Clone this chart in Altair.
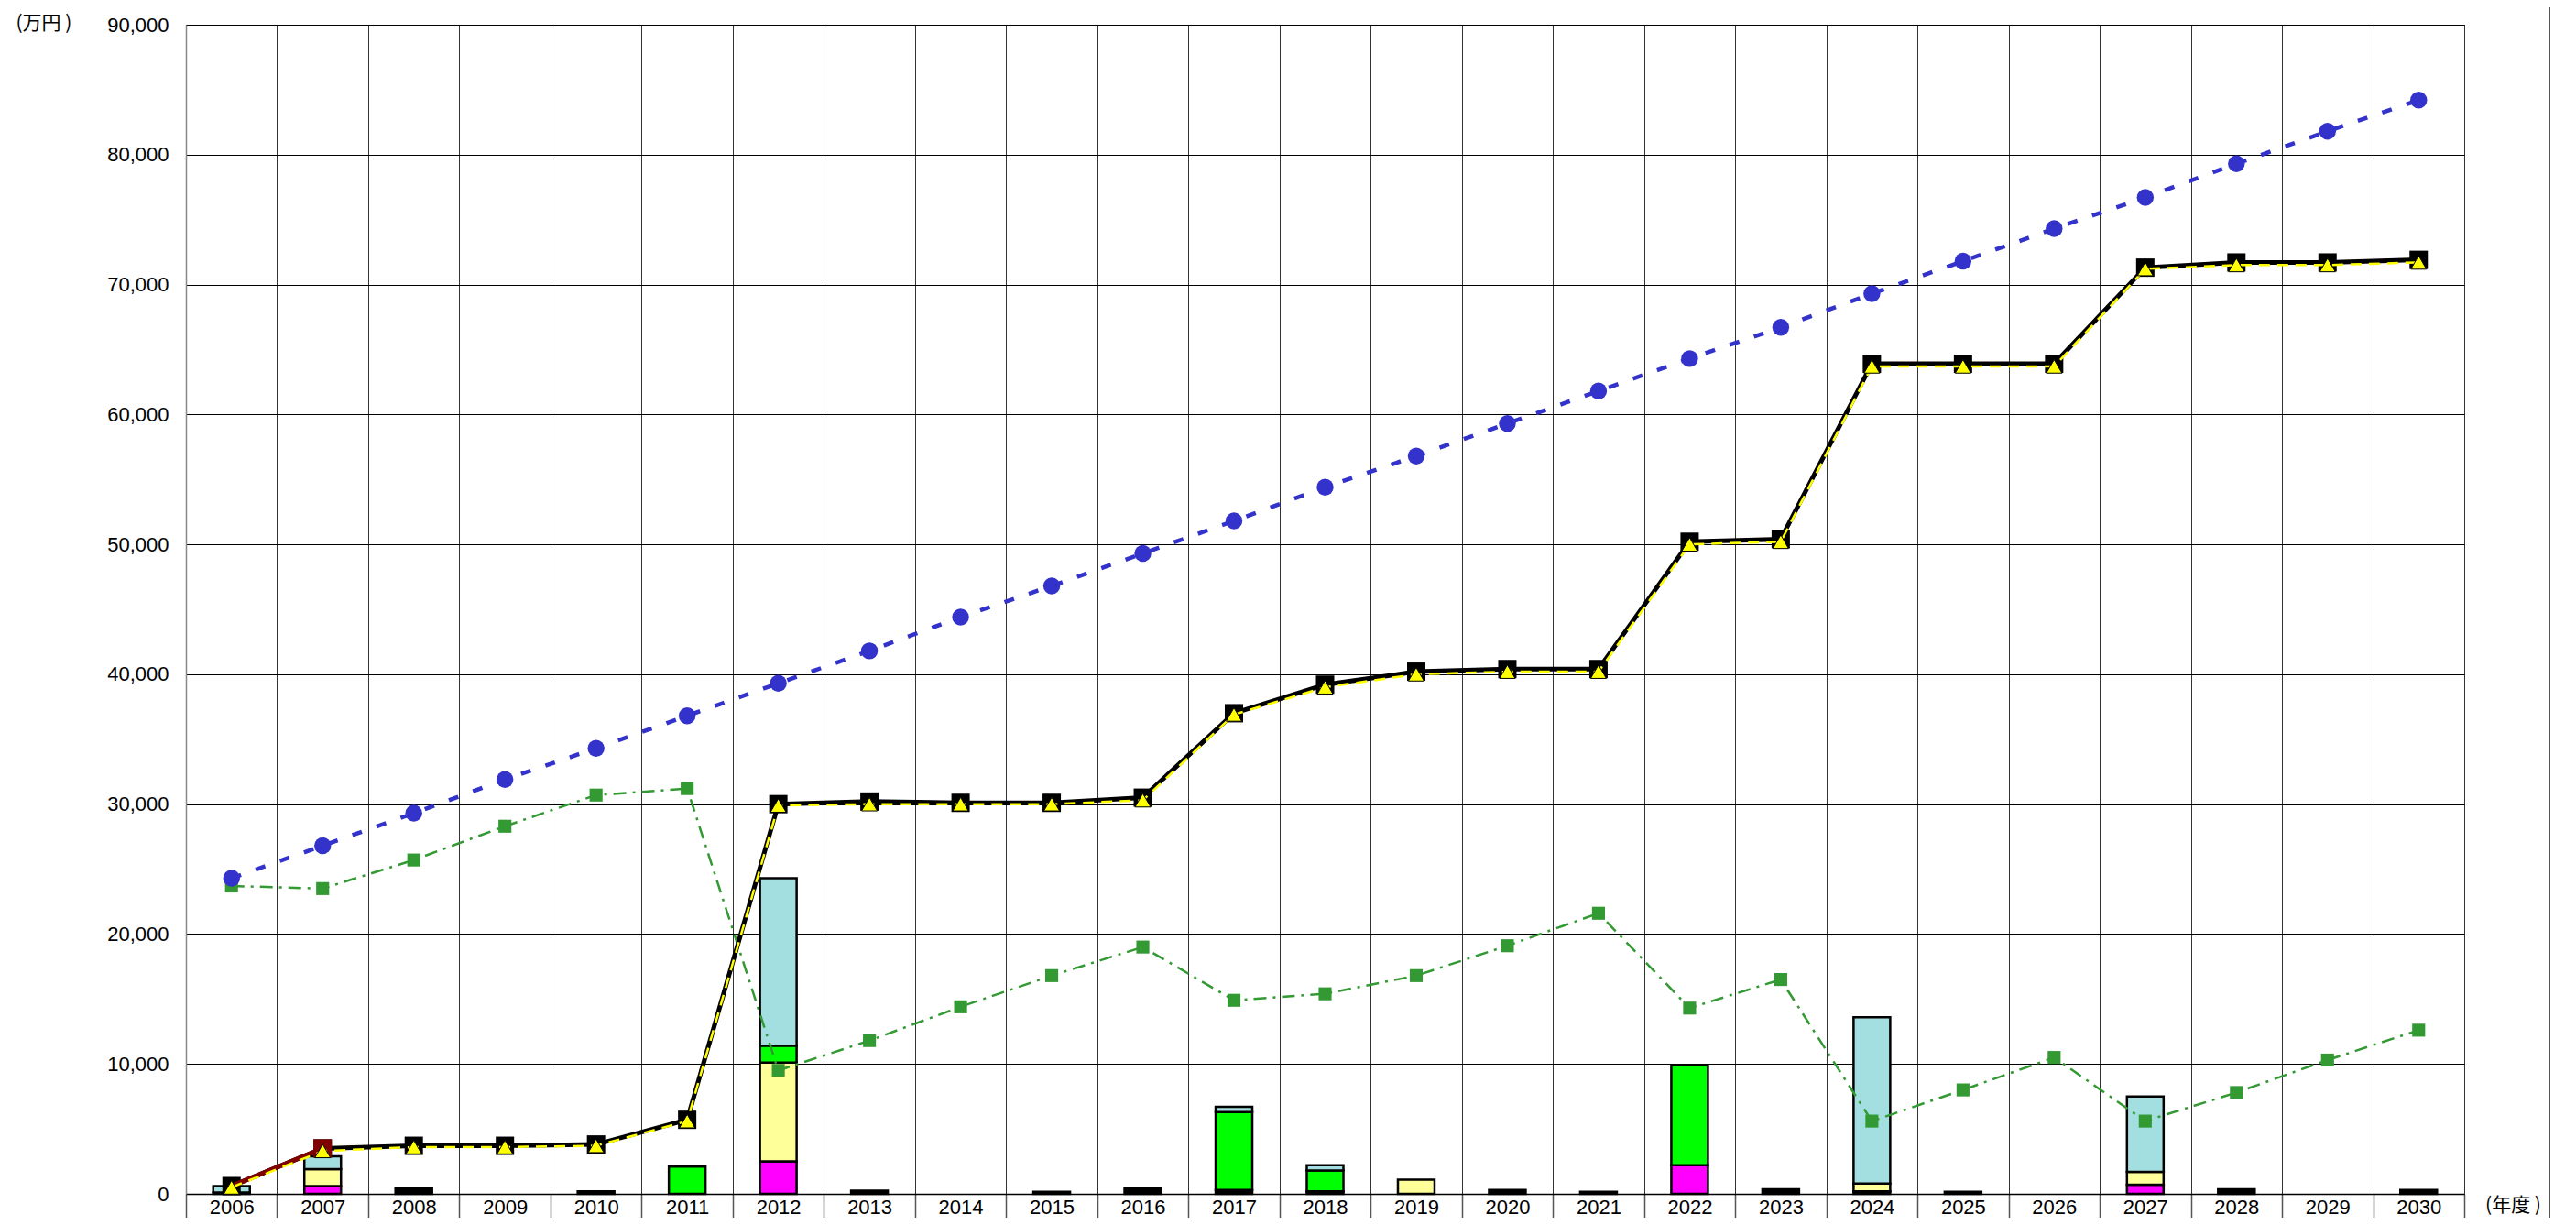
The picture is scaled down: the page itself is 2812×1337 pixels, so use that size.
import altair as alt
import pandas as pd

years = [str(y) for y in range(2006, 2031)]

# stacked bar components (万円)
bar_black =   [100, 0, 400, 0, 200, 0, 0, 250, 0, 150, 400, 300, 200, 0, 300, 150, 0, 350, 200, 150, 0, 0, 350, 0, 300]
bar_magenta = [0, 600, 0, 0, 0, 0, 2500, 0, 0, 0, 0, 0, 0, 0, 0, 0, 2200, 0, 0, 0, 0, 700, 0, 0, 0]
bar_yellow =  [0, 1300, 0, 0, 0, 0, 7600, 0, 0, 0, 0, 0, 0, 1100, 0, 0, 0, 0, 600, 0, 0, 1000, 0, 0, 0]
bar_green =   [0, 0, 0, 0, 0, 2100, 1300, 0, 0, 0, 0, 6000, 1600, 0, 0, 0, 7700, 0, 0, 0, 0, 0, 0, 0, 0]
bar_cyan =    [500, 1000, 0, 0, 0, 0, 12900, 0, 0, 0, 0, 400, 400, 0, 0, 0, 0, 0, 12800, 0, 0, 5800, 0, 0, 0]

# line series
blue_vals = [24300, 26800, 29300, 31900, 34300, 36800, 39300, 41800, 44400, 46800, 49300, 51800,
             54400, 56800, 59300, 61800, 64300, 66700, 69300, 71800, 74300, 76700, 79300, 81800, 84200]
green_vals = [23700, 23500, 25700, 28300, 30700, 31200, 9500, 11800, 14400, 16800, 19000, 14900,
              15400, 16800, 19100, 21600, 14300, 16500, 5600, 8000, 10500, 5600, 7800, 10300, 12600]
black_vals = [600, 3500, 3700, 3700, 3800, 5700, 30000, 30200, 30100, 30100, 30500, 37000,
              39200, 40200, 40400, 40400, 50200, 50400, 63900, 63900, 63900, 71300, 71700, 71700, 71900]
yellow_vals = [500, 3300, 3600, 3600, 3700, 5600, 29900, 30000, 30000, 30000, 30300, 36900,
               39000, 40000, 40200, 40200, 50000, 50200, 63700, 63700, 63700, 71200, 71500, 71500, 71700]
red_years = ["2006", "2007"]
red_vals = [600, 3500]

cats = ["black", "magenta", "yellow", "green", "cyan"]
cat_colors = ["#000000", "#FF00FF", "#FFFF99", "#00FF00", "#A3DFE0"]
rows = []
for ci, (c, vals) in enumerate(zip(cats, [bar_black, bar_magenta, bar_yellow, bar_green, bar_cyan])):
    for y, v in zip(years, vals):
        rows.append({"year": y, "cat": c, "value": v, "ord": ci})
bars_df = pd.DataFrame(rows)

def series_df(vals, yrs=years):
    return pd.DataFrame({"year": yrs, "value": vals})

W, H = 2487, 1276
NUM_FONT = "Liberation Sans"
JP_FONT = "Noto Sans CJK JP"

x_enc = alt.X("year:O", sort=years,
              scale=alt.Scale(paddingInner=0, paddingOuter=0),
              axis=alt.Axis(title="(年度 )", titleAngle=0, titleX=2540, titleY=12,
                            titleAlign="center", titleBaseline="middle",
                            titleFont=JP_FONT, titleFontSize=21, titleFontWeight="normal",
                            titleColor="#000",
                            labelAngle=0, labelFont=NUM_FONT, labelFontSize=22, labelColor="#000",
                            labelBaseline="top", labelPadding=-36,
                            tickBand="extent", ticks=True, tickSize=40, tickColor="#555",
                            tickWidth=1.5,
                            grid=True, gridColor="#333", gridWidth=1,
                            domain=True, domainColor="#000", domainWidth=1.5))
x_plain = alt.X("year:O", sort=years)
y_enc = alt.Y("value:Q", stack=True,
              scale=alt.Scale(domain=[0, 90000], nice=False, zero=True),
              axis=alt.Axis(title="(万円 )", titleAngle=0, titleX=-186, titleY=-2,
                            titleAlign="left", titleBaseline="middle",
                            titleFont=JP_FONT, titleFontSize=21, titleFontWeight="normal",
                            titleColor="#000",
                            values=list(range(0, 90001, 10000)), format=",.0f",
                            labelFont=NUM_FONT, labelFontSize=22, labelColor="#000",
                            labelPadding=19, ticks=False,
                            grid=True, gridColor="#000", gridWidth=1,
                            domain=True, domainColor="#888", domainWidth=1.5))
y_plain = alt.Y("value:Q")

bars = alt.Chart(bars_df).transform_filter("datum.value > 0").mark_bar(
    size=40, stroke="#000", strokeWidth=2.5
).encode(
    x=x_enc, y=y_enc,
    color=alt.Color("cat:N", scale=alt.Scale(domain=cats, range=cat_colors), legend=None),
    order=alt.Order("ord:Q"),
)

green_base = alt.Chart(series_df(green_vals)).encode(x=x_plain, y=y_plain)
green_line = green_base.mark_line(color="#339933", strokeWidth=2.5, strokeDash=[14, 7, 3, 7])
green_pts = green_base.mark_square(color="#339933", size=200, opacity=1)

blue_base = alt.Chart(series_df(blue_vals)).encode(x=x_plain, y=y_plain)
blue_line = blue_base.mark_line(color="#3333CC", strokeWidth=4.5, strokeDash=[11, 17])
blue_pts = blue_base.mark_circle(color="#3333CC", size=340, opacity=1)

black_base = alt.Chart(series_df(black_vals)).encode(x=x_plain, y=y_plain)
black_line = black_base.mark_line(color="#000", strokeWidth=5)
black_pts = black_base.mark_square(color="#000", size=400, opacity=1)

red_base = alt.Chart(series_df(red_vals, red_years)).encode(x=x_plain, y=y_plain)
red_line = red_base.mark_line(color="#800000", strokeWidth=5)
red_pts = red_base.transform_filter("datum.year == '2007'").mark_square(color="#800000", size=400, opacity=1)

yellow_base = alt.Chart(series_df(yellow_vals)).encode(x=x_plain, y=y_plain)
yellow_line = yellow_base.mark_line(color="#FFFF00", strokeWidth=2.5, strokeDash=[12, 8])
yellow_pts = yellow_base.mark_point(shape="triangle-up", filled=True, fill="#FFFF00",
                                    stroke="#000", strokeWidth=1, size=290, opacity=1)

frame = alt.Chart(pd.DataFrame({"a": [0]})).mark_rule(color="#555", strokeWidth=2, clip=False).encode(
    x=alt.value(2580), y=alt.value(-19), y2=alt.value(1302)
)

chart = alt.layer(
    bars, green_line, green_pts, blue_line, blue_pts,
    black_line, black_pts, red_line, red_pts, yellow_line, yellow_pts, frame
).properties(
    width=W, height=H,
    autosize=alt.AutoSizeParams(type="none"),
    padding={"left": 195, "top": 19, "right": 114, "bottom": 26},
    background="#ffffff",
).configure_view(stroke="#000", strokeWidth=1)

chart.save("out.html", embed_options={"renderer": "svg", "actions": False})
